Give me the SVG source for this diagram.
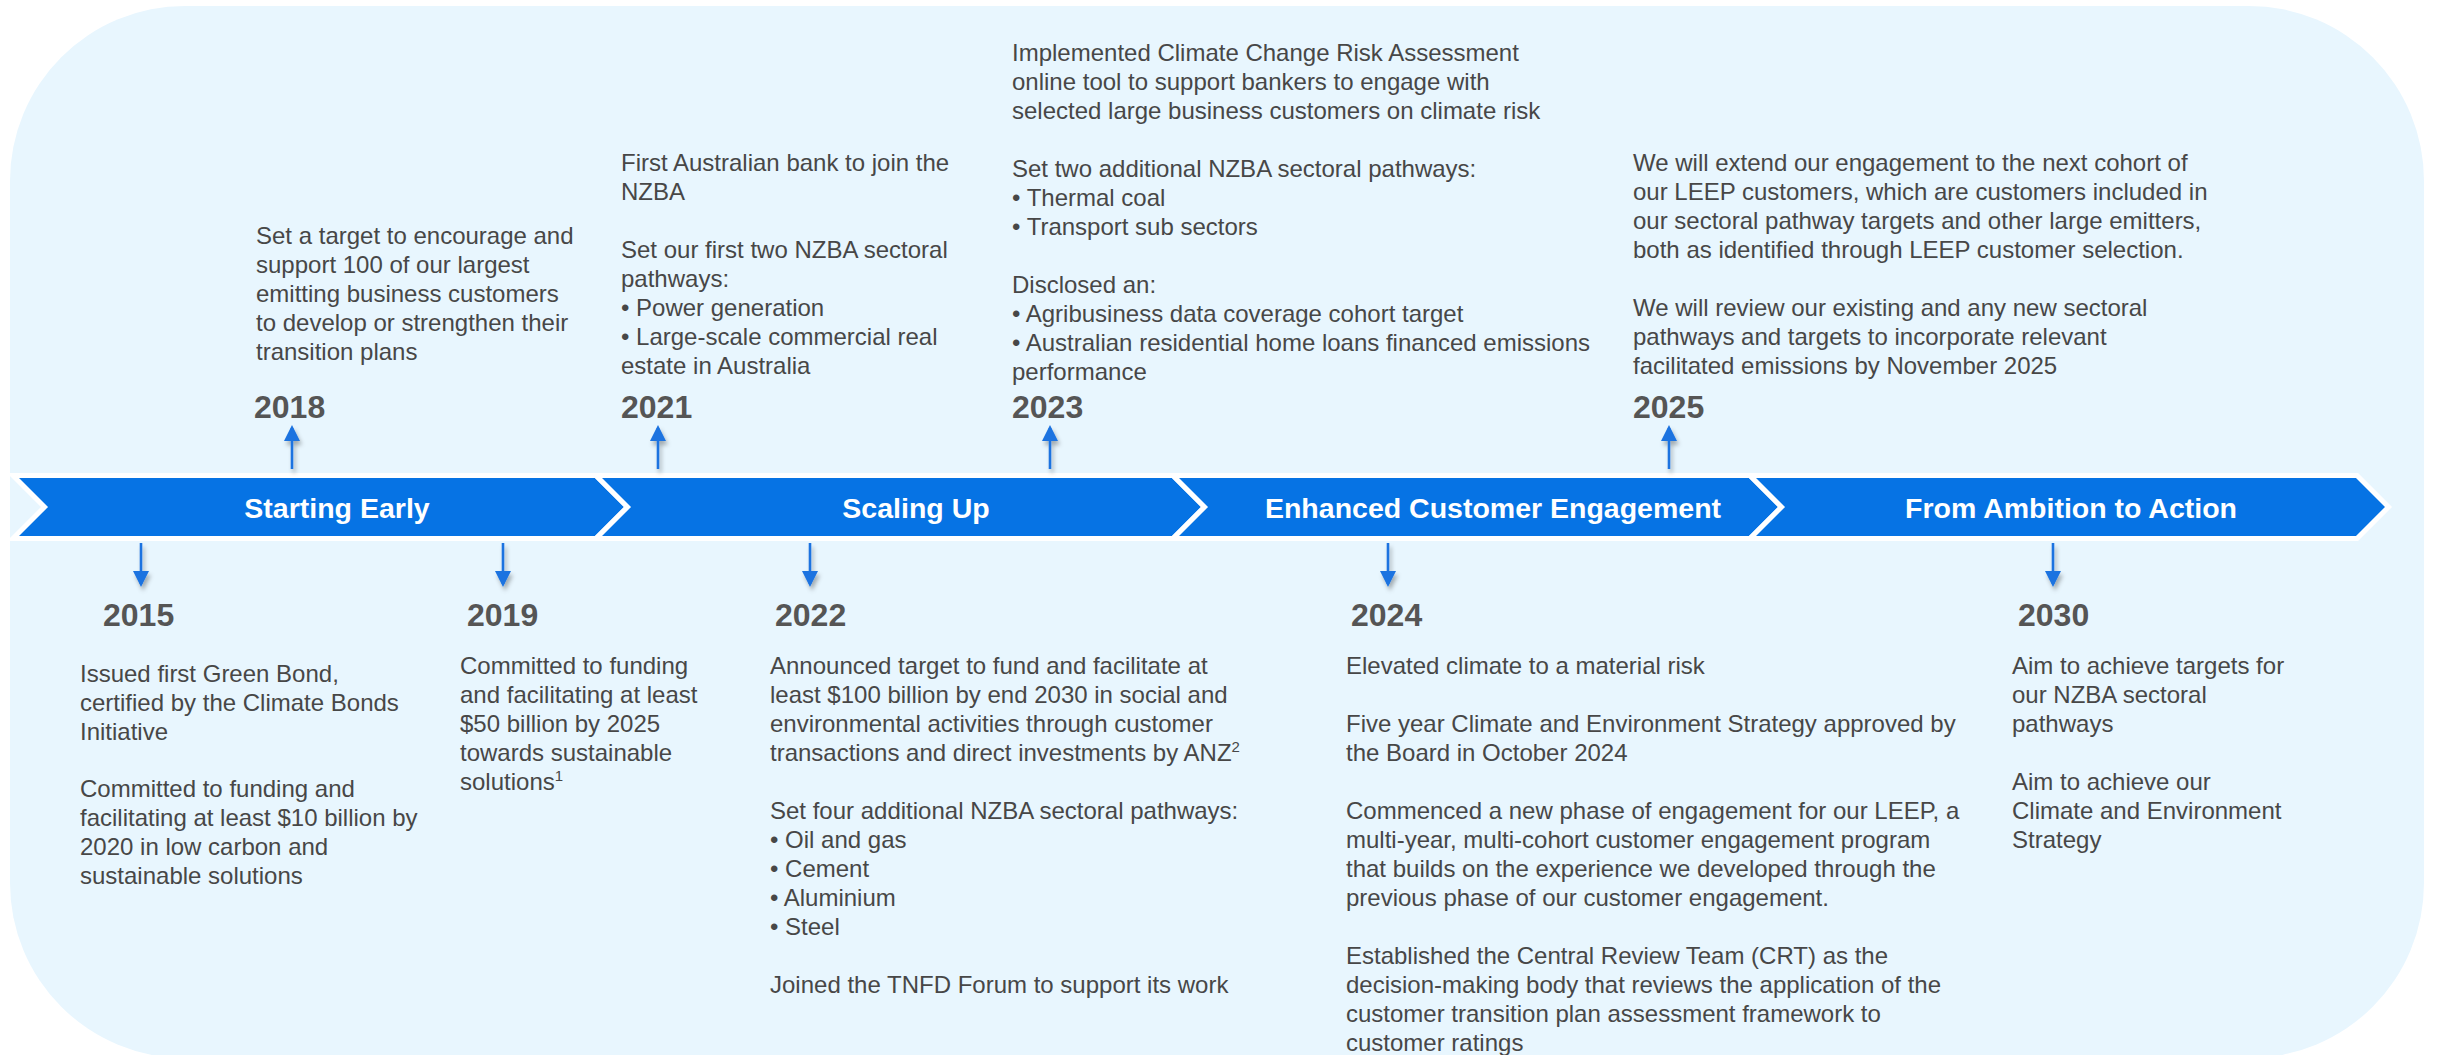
<svg xmlns="http://www.w3.org/2000/svg" width="2440" height="1055" viewBox="0 0 2440 1055">
<defs>
<style>
.body{font-family:"Liberation Sans",Arial,sans-serif;font-size:24px;fill:#474747;}
.year{font-family:"Liberation Sans",Arial,sans-serif;font-size:32px;font-weight:bold;fill:#555555;}
.phase{font-family:"Liberation Sans",Arial,sans-serif;font-size:28.5px;font-weight:bold;fill:#ffffff;text-anchor:middle;}
.chev{fill:#0673E4;stroke:#ffffff;stroke-width:5;stroke-linejoin:miter;}
.arr{stroke:#1A73E0;stroke-width:2.6;fill:none;marker-end:url(#head);}
.sup{font-size:15px;}
</style>
<marker id="head" viewBox="0 0 16 16" refX="13" refY="8" markerWidth="16" markerHeight="16" markerUnits="userSpaceOnUse" orient="auto">
<path d="M0,0 L16,8 L0,16 z" fill="#1A73E0"/>
</marker>
<filter id="sh" filterUnits="userSpaceOnUse" x="0" y="0" width="2440" height="1055">
<feDropShadow dx="2" dy="4" stdDeviation="2" flood-color="#000000" flood-opacity="0.3"/>
</filter>
</defs>

<rect id="background" x="10" y="6" width="2414" height="1052" rx="175" ry="175" fill="#E8F6FE"/>

<g id="phases">
<g id="phase-starting-early">
<polygon class="chev" points="13,475.5 596,475.5 627.5,507 596,538.5 13,538.5 44.5,507"/>
<text class="phase" x="337" y="518">Starting Early</text>
</g>
<g id="phase-scaling-up">
<polygon class="chev" points="596,475.5 1173,475.5 1204.5,507 1173,538.5 596,538.5 627.5,507"/>
<text class="phase" x="916" y="518">Scaling Up</text>
</g>
<g id="phase-enhanced">
<polygon class="chev" points="1173,475.5 1750,475.5 1781.5,507 1750,538.5 1173,538.5 1204.5,507"/>
<text class="phase" x="1493" y="518">Enhanced Customer Engagement</text>
</g>
<g id="phase-ambition">
<polygon class="chev" points="1750,475.5 2357,475.5 2388.5,507 2357,538.5 1750,538.5 1781.5,507"/>
<text class="phase" x="2071" y="518">From Ambition to Action</text>
</g>
</g>

<g id="connectors" filter="url(#sh)">
<line class="arr" x1="292" y1="469" x2="292" y2="428"/>
<line class="arr" x1="658" y1="469" x2="658" y2="428"/>
<line class="arr" x1="1050" y1="469" x2="1050" y2="428"/>
<line class="arr" x1="1669" y1="469" x2="1669" y2="428"/>
<line class="arr" x1="141" y1="543" x2="141" y2="584"/>
<line class="arr" x1="503" y1="543" x2="503" y2="584"/>
<line class="arr" x1="810" y1="543" x2="810" y2="584"/>
<line class="arr" x1="1388" y1="543" x2="1388" y2="584"/>
<line class="arr" x1="2053" y1="543" x2="2053" y2="584"/>
</g>

<g id="m2018">
<text class="year" x="254" y="418">2018</text>
<text class="body">
<tspan x="256" y="244">Set a target to encourage and</tspan>
<tspan x="256" y="273">support 100 of our largest</tspan>
<tspan x="256" y="302">emitting business customers</tspan>
<tspan x="256" y="331">to develop or strengthen their</tspan>
<tspan x="256" y="360">transition plans</tspan>
</text>
</g>

<g id="m2021">
<text class="year" x="621" y="418">2021</text>
<text class="body">
<tspan x="621" y="171">First Australian bank to join the</tspan>
<tspan x="621" y="200">NZBA</tspan>
<tspan x="621" y="258">Set our first two NZBA sectoral</tspan>
<tspan x="621" y="287">pathways:</tspan>
<tspan x="621" y="316">• Power generation</tspan>
<tspan x="621" y="345">• Large-scale commercial real</tspan>
<tspan x="621" y="374">estate in Australia</tspan>
</text>
</g>

<g id="m2023">
<text class="year" x="1012" y="418">2023</text>
<text class="body">
<tspan x="1012" y="61">Implemented Climate Change Risk Assessment</tspan>
<tspan x="1012" y="90">online tool to support bankers to engage with</tspan>
<tspan x="1012" y="119">selected large business customers on climate risk</tspan>
<tspan x="1012" y="177">Set two additional NZBA sectoral pathways:</tspan>
<tspan x="1012" y="206">• Thermal coal</tspan>
<tspan x="1012" y="235">• Transport sub sectors</tspan>
<tspan x="1012" y="293">Disclosed an:</tspan>
<tspan x="1012" y="322">• Agribusiness data coverage cohort target</tspan>
<tspan x="1012" y="351">• Australian residential home loans financed emissions</tspan>
<tspan x="1012" y="380">performance</tspan>
</text>
</g>

<g id="m2025">
<text class="year" x="1633" y="418">2025</text>
<text class="body">
<tspan x="1633" y="171">We will extend our engagement to the next cohort of</tspan>
<tspan x="1633" y="200">our LEEP customers, which are customers included in</tspan>
<tspan x="1633" y="229">our sectoral pathway targets and other large emitters,</tspan>
<tspan x="1633" y="258">both as identified through LEEP customer selection.</tspan>
<tspan x="1633" y="316">We will review our existing and any new sectoral</tspan>
<tspan x="1633" y="345">pathways and targets to incorporate relevant</tspan>
<tspan x="1633" y="374">facilitated emissions by November 2025</tspan>
</text>
</g>

<g id="m2015">
<text class="year" x="103" y="626">2015</text>
<text class="body">
<tspan x="80" y="682">Issued first Green Bond,</tspan>
<tspan x="80" y="711">certified by the Climate Bonds</tspan>
<tspan x="80" y="740">Initiative</tspan>
<tspan x="80" y="797">Committed to funding and</tspan>
<tspan x="80" y="826">facilitating at least $10 billion by</tspan>
<tspan x="80" y="855">2020 in low carbon and</tspan>
<tspan x="80" y="884">sustainable solutions</tspan>
</text>
</g>

<g id="m2019">
<text class="year" x="467" y="626">2019</text>
<text class="body">
<tspan x="460" y="674">Committed to funding</tspan>
<tspan x="460" y="703">and facilitating at least</tspan>
<tspan x="460" y="732">$50 billion by 2025</tspan>
<tspan x="460" y="761">towards sustainable</tspan>
<tspan x="460" y="790">solutions<tspan class="sup" dy="-9">1</tspan></tspan>
</text>
</g>

<g id="m2022">
<text class="year" x="775" y="626">2022</text>
<text class="body">
<tspan x="770" y="674">Announced target to fund and facilitate at</tspan>
<tspan x="770" y="703">least $100 billion by end 2030 in social and</tspan>
<tspan x="770" y="732">environmental activities through customer</tspan>
<tspan x="770" y="761">transactions and direct investments by ANZ<tspan class="sup" dy="-9">2</tspan></tspan>
<tspan x="770" y="819">Set four additional NZBA sectoral pathways:</tspan>
<tspan x="770" y="848">• Oil and gas</tspan>
<tspan x="770" y="877">• Cement</tspan>
<tspan x="770" y="906">• Aluminium</tspan>
<tspan x="770" y="935">• Steel</tspan>
<tspan x="770" y="993">Joined the TNFD Forum to support its work</tspan>
</text>
</g>

<g id="m2024">
<text class="year" x="1351" y="626">2024</text>
<text class="body">
<tspan x="1346" y="674">Elevated climate to a material risk</tspan>
<tspan x="1346" y="732">Five year Climate and Environment Strategy approved by</tspan>
<tspan x="1346" y="761">the Board in October 2024</tspan>
<tspan x="1346" y="819">Commenced a new phase of engagement for our LEEP, a</tspan>
<tspan x="1346" y="848">multi-year, multi-cohort customer engagement program</tspan>
<tspan x="1346" y="877">that builds on the experience we developed through the</tspan>
<tspan x="1346" y="906">previous phase of our customer engagement.</tspan>
<tspan x="1346" y="964">Established the Central Review Team (CRT) as the</tspan>
<tspan x="1346" y="993">decision-making body that reviews the application of the</tspan>
<tspan x="1346" y="1022">customer transition plan assessment framework to</tspan>
<tspan x="1346" y="1051">customer ratings</tspan>
</text>
</g>

<g id="m2030">
<text class="year" x="2018" y="626">2030</text>
<text class="body">
<tspan x="2012" y="674">Aim to achieve targets for</tspan>
<tspan x="2012" y="703">our NZBA sectoral</tspan>
<tspan x="2012" y="732">pathways</tspan>
<tspan x="2012" y="790">Aim to achieve our</tspan>
<tspan x="2012" y="819">Climate and Environment</tspan>
<tspan x="2012" y="848">Strategy</tspan>
</text>
</g>
</svg>
